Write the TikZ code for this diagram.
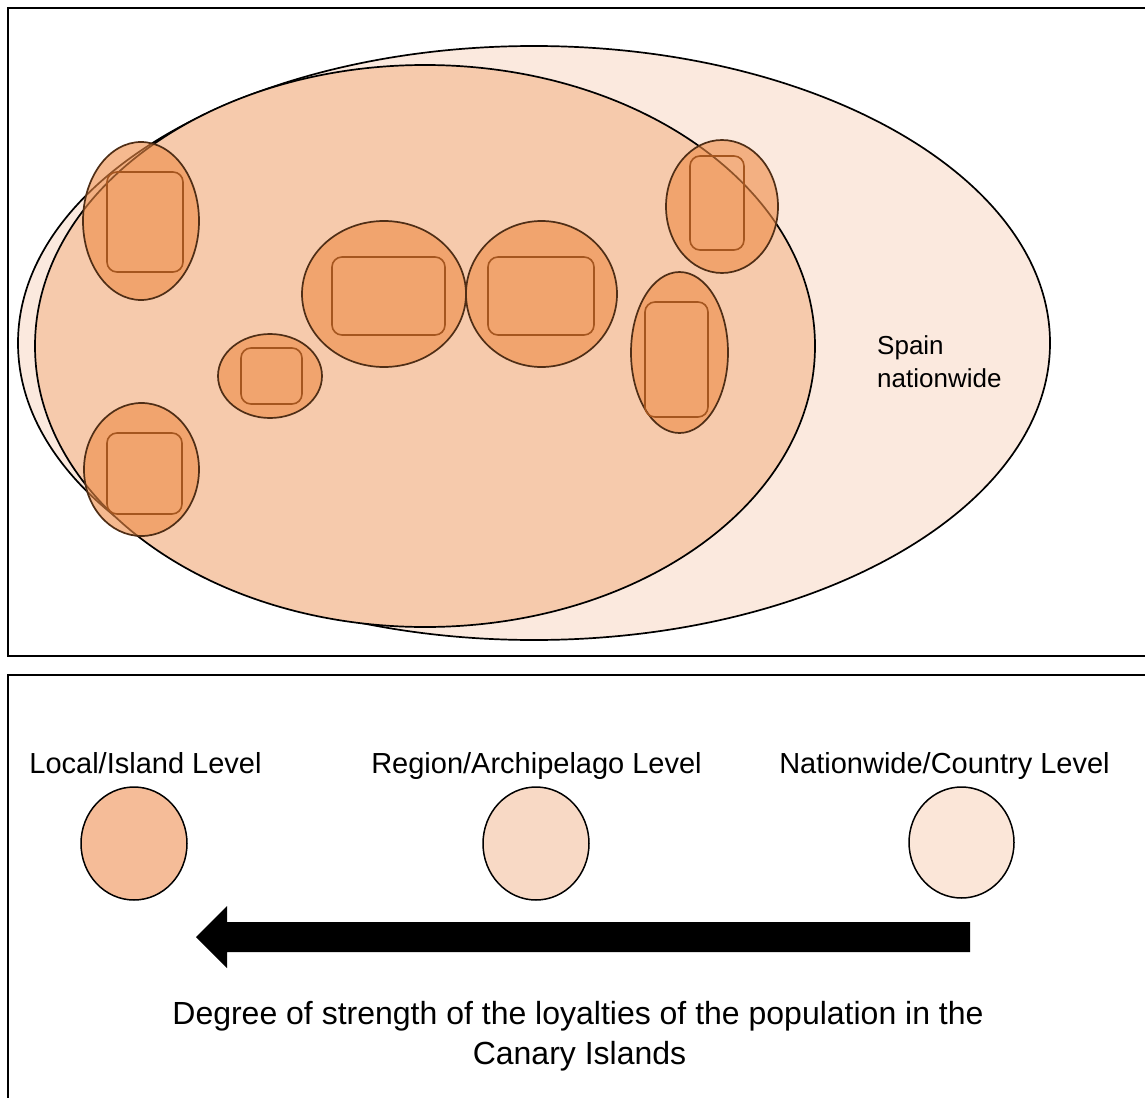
\documentclass[tikz,border=0pt]{standalone}
\usepackage{fontspec}
\setmainfont{Liberation Sans}
\usetikzlibrary{shapes.geometric}

\definecolor{nationfill}{HTML}{FBE9DE}
\definecolor{regionfill}{HTML}{F6CAAC}
\definecolor{islandfill}{HTML}{EF8B45}
\definecolor{islandline}{HTML}{4F2E16}
\definecolor{townline}{HTML}{A5561F}
\definecolor{localdot}{HTML}{F5BC98}
\definecolor{regiondot}{HTML}{F8D9C5}
\definecolor{nationdot}{HTML}{FBE6D8}

\begin{document}
\begin{tikzpicture}[x=1pt,y=-1pt,
  panel/.style={draw=black, line width=1.8pt},
  zone/.style={ellipse, draw=black, line width=1.7pt, inner sep=0pt},
  island/.style={ellipse, draw=islandline, line width=1.7pt, inner sep=0pt,
    fill=islandfill, fill opacity=0.6},
  town/.style={rectangle, rounded corners=10pt, draw=townline, line width=1.6pt,
    inner sep=0pt},
  legenddot/.style={ellipse, draw=black, line width=1.5pt, inner sep=0pt},
  leveltext/.style={anchor=base, inner sep=0pt, font=\fontsize{29}{35}\selectfont},
  captiontext/.style={anchor=base, inner sep=0pt, font=\fontsize{32}{40}\selectfont},
]
\path[use as bounding box] (0,0) rectangle (1145,1097);
\clip (0,0) rectangle (1145,1097);

% panels
\draw[panel] (8,8) rectangle (1170,656);
\draw[panel] (8,675) rectangle (1170,1120);

% nested territorial levels
\node[zone, fill=nationfill, minimum width=1032pt, minimum height=594pt] (spain) at (534,343) {};
\node[zone, fill=regionfill, minimum width=780pt, minimum height=562pt] (canarias) at (425,346) {};

% islands with their local units
\node[island, minimum width=116pt, minimum height=158pt] (isl1) at (141,221) {};
\node[town, minimum width=76pt, minimum height=100pt] (loc1) at (145,222) {};

\node[island, minimum width=115pt, minimum height=133pt] (isl2) at (141.5,469.5) {};
\node[town, minimum width=75pt, minimum height=81pt] (loc2) at (144.5,473.5) {};

\node[island, minimum width=104pt, minimum height=84pt] (isl3) at (270,376) {};
\node[town, minimum width=61pt, minimum height=56pt] (loc3) at (271.5,376) {};

\node[island, minimum width=164pt, minimum height=146pt] (isl4) at (384,294) {};
\node[town, minimum width=113pt, minimum height=78pt] (loc4) at (388.5,296) {};

\node[island, minimum width=151pt, minimum height=146pt] (isl5) at (541.5,294) {};
\node[town, minimum width=106pt, minimum height=78pt] (loc5) at (541,296) {};

\node[island, minimum width=112pt, minimum height=133pt] (isl6) at (722,206.5) {};
\node[town, minimum width=54pt, minimum height=94pt] (loc6) at (717,203) {};

\node[island, minimum width=97pt, minimum height=161pt] (isl7) at (679.5,352.5) {};
\node[town, minimum width=63pt, minimum height=115pt] (loc7) at (676.5,359.5) {};

\node[anchor=base west, inner sep=0pt, font=\fontsize{26}{33}\selectfont] (spainlabel) at (877,354) {Spain};
\node[anchor=base west, inner sep=0pt, font=\fontsize{26}{33}\selectfont] (spainlabel2) at (877,387) {nationwide};

% legend
\node[leveltext] (tlocal) at (145.5,773) {Local/Island Level};
\node[leveltext] (tregion) at (536.5,773) {Region/Archipelago Level};
\node[leveltext] (tnation) at (944.5,773) {Nationwide/Country Level};

\node[legenddot, fill=localdot, minimum width=106pt, minimum height=113pt] (dlocal) at (134,843.5) {};
\node[legenddot, fill=regiondot, minimum width=106pt, minimum height=113pt] (dregion) at (536,843.5) {};
\node[legenddot, fill=nationdot, minimum width=105pt, minimum height=111pt] (dnation) at (961.5,842.5) {};

% direction of increasing loyalty
\fill[black] (970,922) -- (227,922) -- (227,906) -- (196,937) -- (227,968) -- (227,952) -- (970,952) -- cycle;

\node[captiontext] (caption1) at (578,1024) {Degree of strength of the loyalties of the population in the};
\node[captiontext] (caption2) at (579.5,1064) {Canary Islands};
\end{tikzpicture}
\end{document}
